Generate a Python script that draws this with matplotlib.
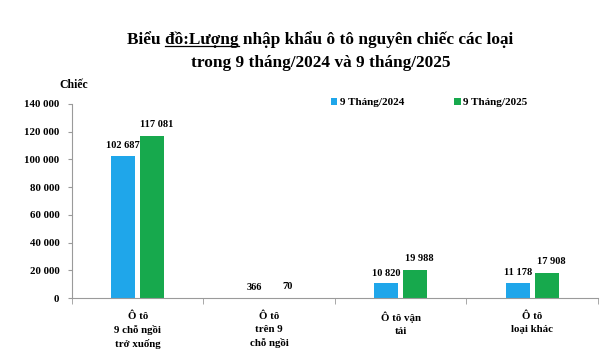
import numpy as np
import matplotlib.pyplot as plt
from matplotlib.ticker import FuncFormatter

# --- dữ liệu ---
categories = ["Ô tô\n9 chỗ ngồi\ntrở xuống", "Ô tô\ntrên 9\nchỗ ngồi", "Ô tô vận\ntải", "Ô tô\nloại khác"]
series_names = ["9 Tháng/2024", "9 Tháng/2025"]
values_2024 = [102687, 366, 10820, 11178]
values_2025 = [117081, 70, 19988, 17908]
yticks = [0, 20000, 40000, 60000, 80000, 100000, 120000, 140000]

BLUE = "#1FA6EA"
GREEN = "#17A94D"
AXIS_GREY = "#9a9a9a"

plt.rcParams['font.family'] = ['Liberation Serif', 'DejaVu Serif']
plt.rcParams['font.weight'] = 'bold'

def fmt(v):
    return f"{int(v):,}".replace(",", " ")

fig = plt.figure(figsize=(6.09, 3.57), dpi=100)
ax = fig.add_axes([0.118, 0.165, 0.864, 0.544])

x = np.arange(len(categories))
w = 0.18
off = 0.11
b1 = ax.bar(x - off, values_2024, w, color=BLUE, label=series_names[0])
b2 = ax.bar(x + off, values_2025, w, color=GREEN, label=series_names[1])

for rect, v in zip(b1, values_2024):
    ax.annotate(fmt(v), (rect.get_x() + rect.get_width() / 2, rect.get_height()),
                xytext=(0, 4), textcoords="offset points", ha="center", va="bottom",
                fontsize=7.5, fontweight="bold")
for rect, v in zip(b2, values_2025):
    ax.annotate(fmt(v), (rect.get_x() + rect.get_width() / 2, rect.get_height()),
                xytext=(3, 5), textcoords="offset points", ha="center", va="bottom",
                fontsize=7.5, fontweight="bold", annotation_clip=False)

ax.set_xlim(-0.5, len(categories) - 0.5)
ax.set_ylim(0, 140000)
ax.set_yticks(yticks)
ax.yaxis.set_major_formatter(FuncFormatter(lambda v, p: fmt(v)))
ax.tick_params(axis="y", labelsize=7.8, length=3, color=AXIS_GREY, pad=6)

ax.set_xticks(x)
ax.set_xticklabels(categories, fontsize=7.8, fontweight="bold", linespacing=1.5)
ax.set_xticks(np.arange(-0.5, len(categories), 1.0), minor=True)
ax.tick_params(axis="x", which="major", length=0, pad=10)
ax.tick_params(axis="x", which="minor", length=4, color=AXIS_GREY)
for lab in ax.get_yticklabels():
    lab.set_fontweight("bold")

for s in ("top", "right"):
    ax.spines[s].set_visible(False)
for s in ("left", "bottom"):
    ax.spines[s].set_color(AXIS_GREY)
    ax.spines[s].set_linewidth(0.8)

fig.text(0.098, 0.762, "Chiếc", fontsize=8.5, fontweight="bold", ha="left", va="center")

fig.legend(loc="center", bbox_to_anchor=(0.705, 0.712), ncol=2, frameon=False,
           handlelength=0.55, handleheight=0.55, handletextpad=0.25,
           columnspacing=4.5, prop={"weight": "bold", "size": 8})

# --- tiêu đề, gạch chân "đồ:Lượng" ---
TSIZE = 12.4
line1 = "Biểu đồ:Lượng nhập khẩu ô tô nguyên chiếc các loại"
t1 = fig.text(0.526, 0.89, line1, fontsize=TSIZE, fontweight="bold", ha="center", va="center")
fig.text(0.526, 0.823, "trong 9 tháng/2024 và 9 tháng/2025", fontsize=TSIZE,
         fontweight="bold", ha="center", va="center")

fig.canvas.draw()
r = fig.canvas.get_renderer()
bb = t1.get_window_extent(r)
def tw(s):
    tmp = fig.text(0, 0, s, fontsize=TSIZE, fontweight="bold")
    e = tmp.get_window_extent(r).width
    tmp.remove()
    return e
x0 = bb.x0 + tw("Biểu ")
x1 = bb.x0 + tw("Biểu đồ:Lượng")
W = fig.bbox.width
yl = (357 - 46) / 357
fig.add_artist(plt.Line2D([x0 / W, x1 / W], [yl, yl], color="black", lw=0.9))

fig.savefig("out.png", dpi=100)
